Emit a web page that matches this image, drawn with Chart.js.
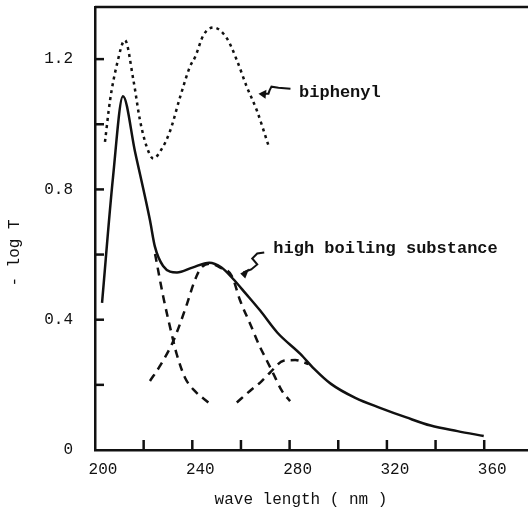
<!DOCTYPE html>
<html>
<head>
<meta charset="utf-8">
<script src="https://cdn.jsdelivr.net/npm/chart.js@4.4.1/dist/chart.umd.min.js"></script>
<style>
  html, body { margin: 0; padding: 0; background: #fff; }
  #spec { display: block; }
</style>
</head>
<body>
<canvas id="spec" width="528" height="510"></canvas>
<script>
// high boiling substance (measured)
const totalX = [202.9, 207.4, 211.5, 216.5, 222.6, 224.6, 228.0, 233.7, 240.0, 247.0, 252.0, 256.8, 262.0, 267.9, 275.0, 284.4, 290.0, 297.0, 307.0, 317.7, 328.0, 338.0, 349.0, 359.8];
const totalY = [0.452, 0.837, 1.086, 0.914, 0.705, 0.625, 0.565, 0.545, 0.560, 0.575, 0.560, 0.525, 0.480, 0.428, 0.360, 0.295, 0.250, 0.203, 0.160, 0.128, 0.100, 0.075, 0.058, 0.043];

// biphenyl
const biphenylX = [204.1, 206.2, 208.9, 212.3, 215.8, 218.5, 221.3, 224.0, 227.5, 230.9, 235.0, 239.0, 241.2, 244.6, 248.7, 254.2, 258.3, 262.4, 266.5, 271.3];
const biphenylY = [0.946, 1.074, 1.180, 1.258, 1.135, 1.012, 0.930, 0.895, 0.925, 0.980, 1.084, 1.176, 1.207, 1.274, 1.297, 1.264, 1.197, 1.115, 1.043, 0.935];

// resolved bands (dashed)
const band1X = [224.7, 228.1, 232.2, 233.6, 237.0, 241.2, 246.6];
const band1Y = [0.602, 0.469, 0.335, 0.294, 0.222, 0.180, 0.146];

const band2X = [222.6, 226.7, 232.2, 237.8, 240.5, 243.2, 247.0, 251.5, 256.2, 259.7, 263.8, 267.9, 270.0, 273.4, 276.8, 280.2];
const band2Y = [0.212, 0.258, 0.335, 0.448, 0.510, 0.555, 0.572, 0.560, 0.535, 0.458, 0.387, 0.315, 0.284, 0.233, 0.182, 0.150];

const band3X = [258.3, 263.8, 267.9, 272.0, 277.5, 282.3, 287.8];
const band3Y = [0.146, 0.182, 0.207, 0.238, 0.274, 0.276, 0.264];

const xLabelled = [200, 240, 280, 320, 360];
const yLabelled = ['0', '0.4', '0.8', '1.2'];

const pts = (xs, ys) => xs.map((x, i) => ({ x: x, y: ys[i] }));

const FONT = '"Liberation Mono", "DejaVu Sans Mono", monospace';
const INK = '#111';

function line(xs, ys, dash) {
  return {
    data: pts(xs, ys),
    borderColor: INK,
    borderWidth: 2.5,
    borderDash: dash,
    pointRadius: 0,
    cubicInterpolationMode: 'monotone',
    fill: false
  };
}

// arrow: path offsets in px relative to the tip
function drawArrow(ctx, tipX, tipY, path, head) {
  ctx.beginPath();
  ctx.moveTo(tipX + path[0][0], tipY + path[0][1]);
  for (let i = 1; i < path.length; i++) ctx.lineTo(tipX + path[i][0], tipY + path[i][1]);
  ctx.stroke();
  ctx.beginPath();
  ctx.moveTo(tipX, tipY);
  ctx.lineTo(tipX + head[0][0], tipY + head[0][1]);
  ctx.lineTo(tipX + head[1][0], tipY + head[1][1]);
  ctx.closePath();
  ctx.fill();
}

const extras = {
  id: 'extras',
  afterDraw(chart) {
    const ctx = chart.ctx;
    const xs = chart.scales.x, ys = chart.scales.y;
    const area = chart.chartArea;
    ctx.save();
    ctx.strokeStyle = INK;
    ctx.fillStyle = INK;
    ctx.lineWidth = 2.5;
    ctx.lineCap = 'butt';

    // top frame line
    ctx.beginPath();
    ctx.moveTo(area.left, area.top);
    ctx.lineTo(area.right, area.top);
    ctx.stroke();

    // inward tick marks
    xs.ticks.forEach(t => {
      if (t.value === 200) return;
      const px = xs.getPixelForValue(t.value);
      ctx.beginPath();
      ctx.moveTo(px, area.bottom);
      ctx.lineTo(px, area.bottom - 10);
      ctx.stroke();
    });
    ys.ticks.forEach(t => {
      if (t.value === 0) return;
      const py = ys.getPixelForValue(t.value);
      ctx.beginPath();
      ctx.moveTo(area.left, py);
      ctx.lineTo(area.left + 9, py);
      ctx.stroke();
    });

    // annotations
    ctx.lineWidth = 2;
    const bx = xs.getPixelForValue(267.2), by = ys.getPixelForValue(1.094);
    drawArrow(ctx, bx, by,
      [[32, -5], [20, -6], [13, -7], [11, -3], [10, 0], [3, 0]],
      [[8, -4], [7, 5]]);
    const hx = xs.getPixelForValue(259.7), hy = ys.getPixelForValue(0.542);
    drawArrow(ctx, hx, hy,
      [[24, -21], [17, -20], [12, -15], [17, -9], [11, -4], [3, -1]],
      [[9, -5], [5, 5]]);

    ctx.font = 'bold 17px ' + FONT;
    ctx.textBaseline = 'middle';
    ctx.textAlign = 'left';
    ctx.fillText('biphenyl', xs.getPixelForValue(283.9), ys.getPixelForValue(1.098));
    ctx.fillText('high boiling substance', xs.getPixelForValue(273.3), ys.getPixelForValue(0.618));

    // axis titles
    ctx.font = '16px ' + FONT;
    ctx.textAlign = 'center';
    ctx.textBaseline = 'alphabetic';
    ctx.fillText('wave length ( nm )', 301, 504);
    ctx.translate(15, 253);
    ctx.rotate(-Math.PI / 2);
    ctx.textBaseline = 'middle';
    ctx.fillText('- log T', 0, 0);
    ctx.restore();
  }
};

new Chart(document.getElementById('spec'), {
  type: 'line',
  data: {
    datasets: [
      line(totalX, totalY, []),
      line(biphenylX, biphenylY, [3, 4]),
      line(band1X, band1Y, [8, 6]),
      line(band2X, band2Y, [8, 6]),
      line(band3X, band3Y, [8, 6])
    ]
  },
  options: {
    responsive: false,
    animation: false,
    layout: { padding: { top: 7, right: 0, left: 0, bottom: 0 } },
    plugins: { legend: { display: false }, tooltip: { enabled: false } },
    scales: {
      x: {
        type: 'linear',
        min: 200,
        max: 378,
        afterFit: s => { s.height = 60; s.paddingLeft = 0; s.paddingRight = 0; },
        grid: { display: false, drawTicks: false },
        border: { display: true, color: INK, width: 2.5 },
        ticks: {
          stepSize: 20,
          includeBounds: false,
          padding: 10,
          labelOffset: 8,
          maxRotation: 0,
          autoSkip: false,
          color: INK,
          font: { family: FONT, size: 16 },
          callback: v => xLabelled.includes(v) ? String(v) : ''
        }
      },
      y: {
        min: 0,
        max: 1.36,
        afterFit: s => { s.width = 95; s.paddingTop = 0; s.paddingBottom = 0; },
        grid: { display: false, drawTicks: false },
        border: { display: true, color: INK, width: 2.5 },
        ticks: {
          stepSize: 0.2,
          includeBounds: false,
          padding: 22,
          autoSkip: false,
          color: INK,
          font: { family: FONT, size: 16 },
          callback: v => {
            const s = String(Math.round(v * 10) / 10);
            return yLabelled.includes(s) ? s : '';
          }
        }
      }
    }
  },
  plugins: [extras]
});
</script>
</body>
</html>
